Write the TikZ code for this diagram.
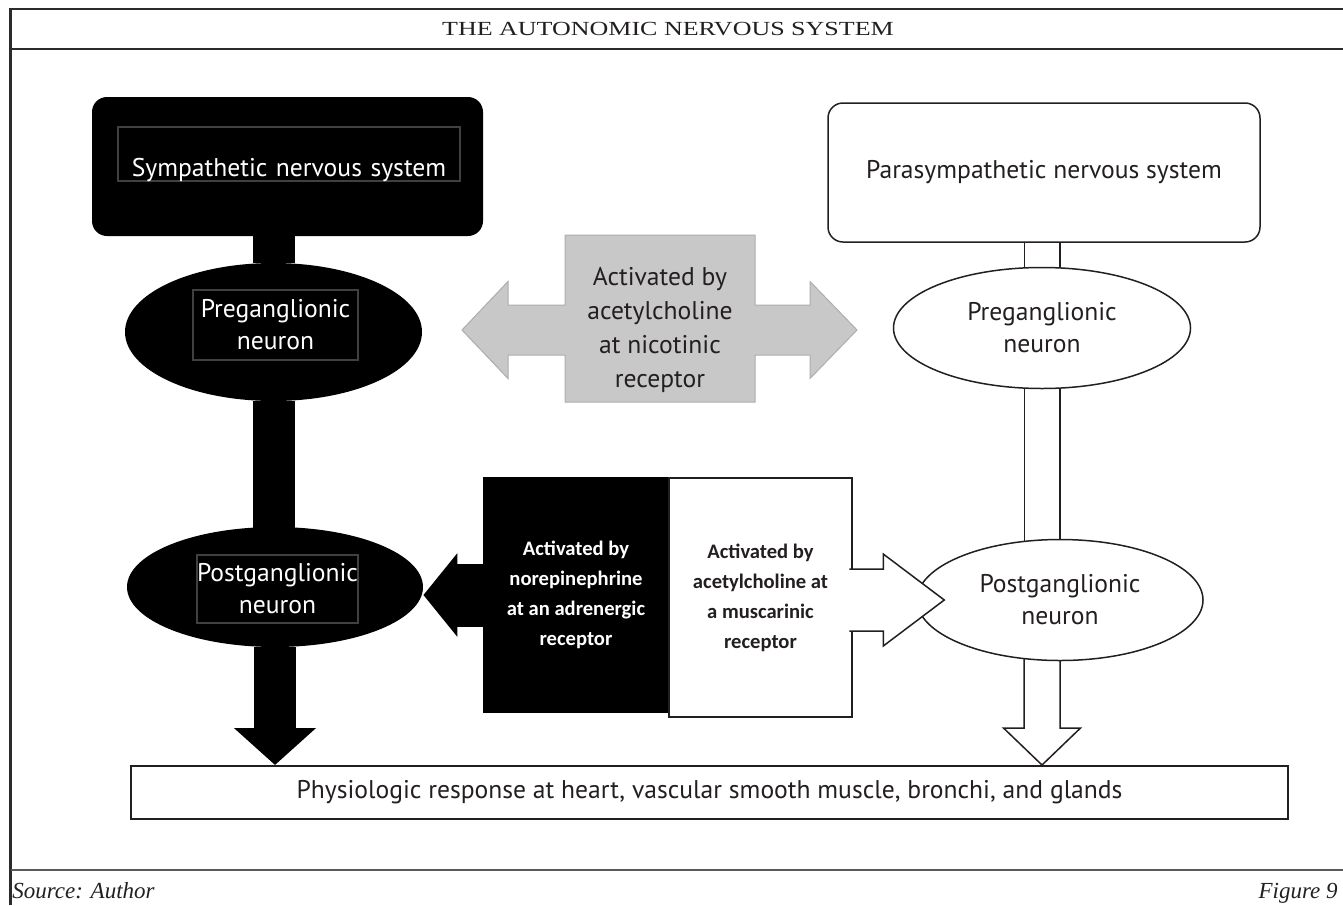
\documentclass[tikz,border=0pt]{standalone}
\usepackage{fontspec}
\setmainfont{PT Sans}
\newfontfamily\titlefont[FakeStretch=1.3]{Liberation Serif}
\newfontfamily\footfont{Liberation Serif}
\newfontfamily\notefont{Carlito}
\usepackage{tikz}
\usetikzlibrary{arrows.meta,shapes.geometric,calc,backgrounds}

\definecolor{ink}{HTML}{231F20}
\definecolor{nicfill}{HTML}{C8C8C8}
\definecolor{nicedge}{HTML}{ADADAD}
\definecolor{rulegray}{HTML}{2B2B2B}

\begin{document}
\begin{tikzpicture}[
    x=0.5pt, y=-0.5pt,
    every node/.style={font=\fontsize{12.8}{16}\selectfont, inner sep=0pt},
    rule/.style={draw=rulegray, line width=1.2pt},
    symsysbox/.style={rectangle, rounded corners=7.5pt, fill=black, minimum width=195.5pt, minimum height=69.5pt},
    parsysbox/.style={rectangle, rounded corners=7.5pt, draw=ink, line width=0.75pt, fill=white, text=ink, minimum width=216pt, minimum height=69.5pt},
    symcell/.style={ellipse, fill=black},
    parcell/.style={ellipse, draw=ink, line width=0.75pt, fill=white, text=ink, align=center},
    tagbox/.style={rectangle, draw=black!75, line width=0.6pt, text=white, align=center},
    blkshaft/.style={line width=21pt, black},
    blkarrow/.style={blkshaft, -{Triangle[length=18.5pt, width=40pt]}},
    sidearrow/.style={line width=31.5pt, black, -{Triangle[length=17pt, width=41pt]}},
    hollowshaft/.style={draw=ink, line width=0.75pt, double=white, double distance=17pt},
    hollowhead/.style={draw=ink, line width=0.75pt, fill=white, line join=miter},
    nicshape/.style={fill=nicfill, draw=nicedge, line width=0.5pt},
    notebox/.style={rectangle, align=center, font=\notefont\bfseries\fontsize{10.3}{15}\selectfont},
]
\useasboundingbox (0,0) rectangle (1343,905);

% frame, title and footer
\draw[rule] (10.5,905) -- (10.5,9) -- (1343,9);
\draw[rule] (10.5,49) -- (1343,49);
\draw[draw=black!65, line width=0.6pt] (10.5,870) -- (1343,870);
\node[font=\titlefont\fontsize{10}{12}\selectfont, text=ink] (title) at (668,29) {THE AUTONOMIC NERVOUS SYSTEM};
\node[font=\footfont\itshape\fontsize{11.5}{13}\selectfont, text=ink, anchor=base west] (source) at (12,898) {Source: Author};
\node[font=\footfont\itshape\fontsize{11.5}{13}\selectfont, text=ink, anchor=base east] (figno) at (1338,898) {Figure 9};

% sympathetic side
\node[symsysbox] (symsys) at (287.5,166.5) {};
\node[tagbox, text height=24.5pt, text depth=2.5pt, text width=171pt] (symsystxt) at (289,154) {Sympathetic nervous system};
\node[symcell, minimum width=148.5pt, minimum height=69pt] (sympre) at (273.5,332) {};
\node[tagbox, minimum width=82.5pt, minimum height=35pt] (sympretxt) at (275.5,325) {Preganglionic\\neuron};
\node[symcell, minimum width=148pt, minimum height=60pt] (sympost) at (275,587) {};
\node[tagbox, minimum width=80.5pt, minimum height=34pt] (symposttxt) at (277.5,589) {Postganglionic\\neuron};

% parasympathetic side
\node[parsysbox] (parsys) at (1044,172.5) {Parasympathetic nervous system};
\node[parcell, minimum width=148.5pt, minimum height=60.5pt] (parpre) at (1042,328) {Preganglionic\\neuron};
\node[parcell, minimum width=143pt, minimum height=60.5pt] (parpost) at (1060,600) {Postganglionic\\neuron};

% target organs
\node[rectangle, draw=ink, line width=1pt, fill=white, text=ink, minimum width=578.5pt, minimum height=26.5pt] (response) at (709.5,792.5)
  {Physiologic response at heart, vascular smooth muscle, bronchi, and glands};
\coordinate (partip) at (parpre |- response.north);

% receptor boxes
\node[text=ink, align=center, font=\fontsize{12.8}{17}\selectfont] (nicotinic) at (660,330) {Activated by\\acetylcholine\\at nicotinic\\receptor};
\node[notebox, fill=black, text=white, minimum width=93pt, minimum height=118pt] (adrenergic) at (576,595)
  {Activated by\\norepinephrine\\at an adrenergic\\receptor};
\node[notebox, draw=ink, line width=0.75pt, fill=white, text=ink, minimum width=91.5pt, minimum height=119.5pt] (muscarinic) at (760.5,597.5)
  {Activated by\\acetylcholine at\\a muscarinic\\receptor};
\coordinate (mustip) at ($(parpost.west)+(28,0)$);
\path[hollowhead] ($(mustip)+(-95,-31)$) -- ++(34,0) -- ++(0,-15) -- (mustip)
  -- ($(mustip)+(-61,46)$) -- ++(0,-15) -- ++(-34,0);

\begin{pgfonlayer}{background}
% nicotinic double arrow
\draw[nicshape] ($(nicotinic)+(-95,-95)$) -- ++(190,0) -- ++(0,70) -- ++(55,0) -- ++(0,-23.5)
  -- ++(47,48.5) -- ++(-47,48.5) -- ++(0,-23.5) -- ++(-55,0) -- ++(0,47) -- ++(-190,0)
  -- ++(0,-47) -- ++(-57,0) -- ++(0,23.5) -- ++(-46,-48.5) -- ++(46,-48.5) -- ++(0,23.5)
  -- ++(57,0) -- cycle;
% sympathetic chain
\draw[blkshaft] (symsys.center -| sympre) -- (sympre);
\draw[blkshaft] (sympre) -- (sympre |- sympost);
\draw[blkarrow] (sympost) -- (sympost |- response.north);
\draw[sidearrow] (adrenergic) -- (adrenergic -| sympost.east);
% parasympathetic chain
\draw[hollowshaft] (parsys.center -| parpre) -- (parpre);
\draw[hollowshaft] (parpre) -- (parpre |- parpost);
\draw[hollowhead] (partip) -- ++(-38.5,-37) -- ++(20.5,0) -- ++(0,-80) -- ++(36,0)
  -- ++(0,80) -- ++(20.5,0) -- cycle;
\end{pgfonlayer}
\end{tikzpicture}
\end{document}
